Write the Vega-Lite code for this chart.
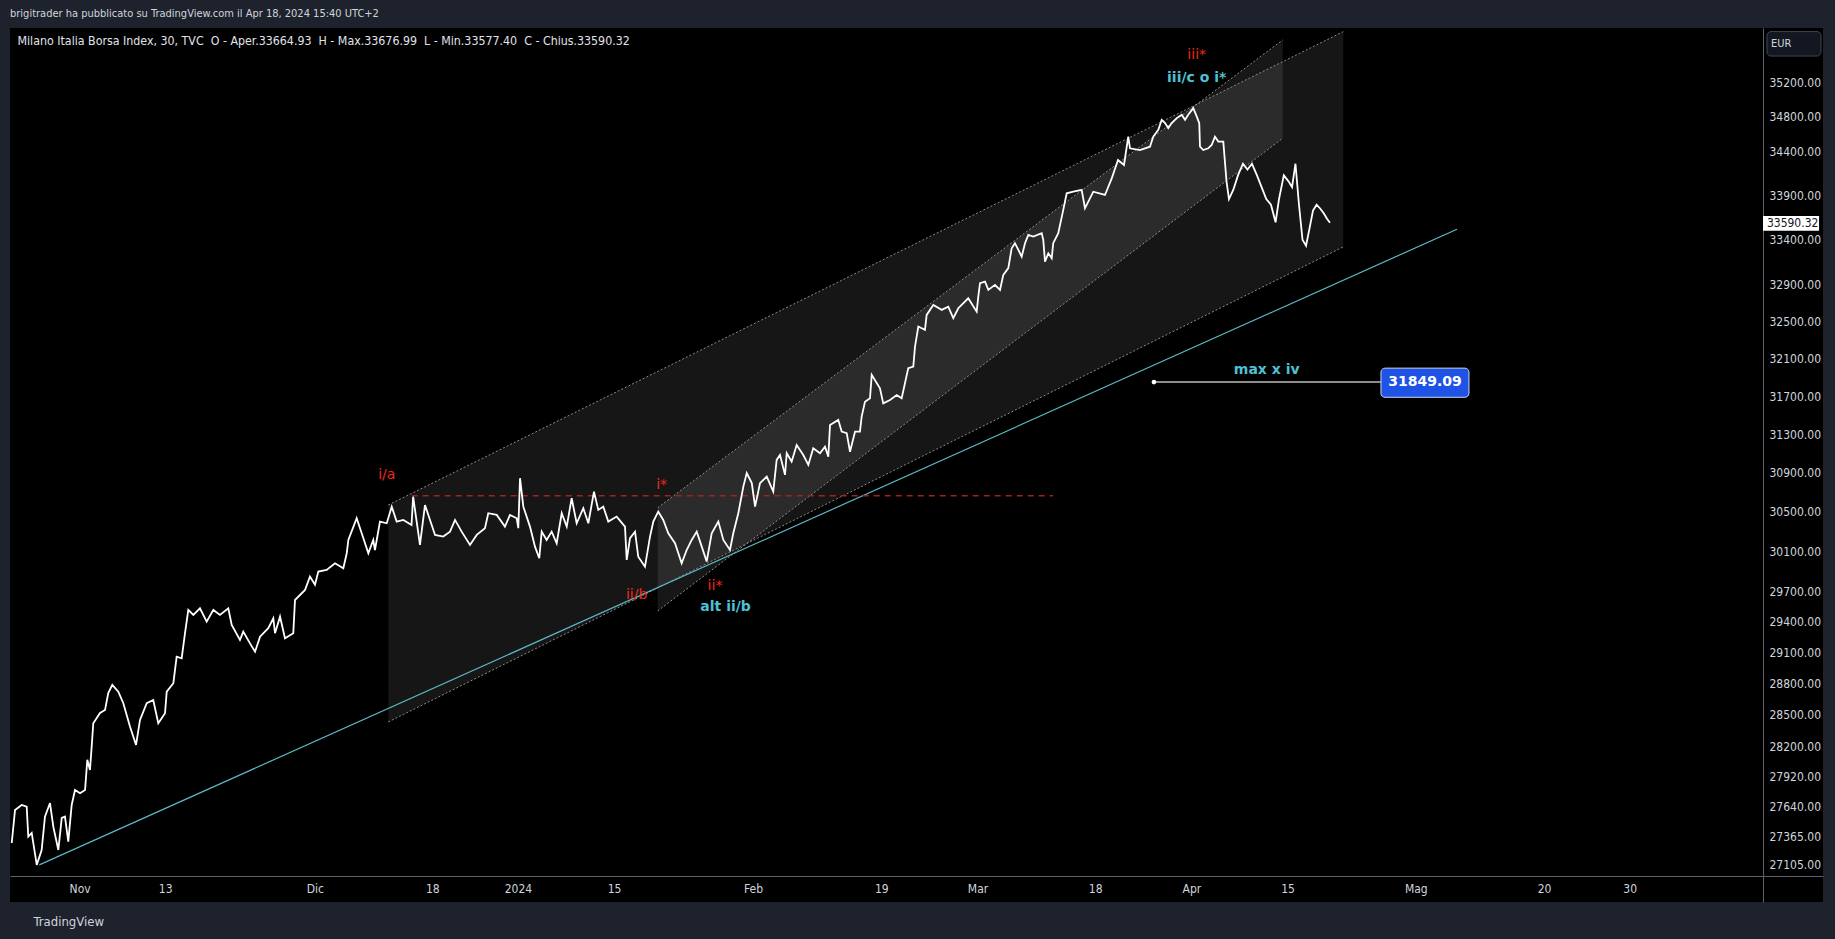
{
  "$schema": "https://vega.github.io/schema/vega-lite/v6.json",
  "width": 1813,
  "height": 874,
  "autosize": {"type": "none"},
  "padding": {"left": 10, "top": 28, "right": 12, "bottom": 37},
  "background": "#1e222d",
  "title": {
    "text": "brigitrader ha pubblicato su TradingView.com il Apr 18, 2024 15:40 UTC+2",
    "anchor": "start", "frame": "group", "offset": 9, "fontSize": 11, "fontWeight": "normal",
    "color": "#d1d4dc", "font": "Liberation Sans Narrow, DejaVu Sans Condensed, Roboto Condensed, Liberation Sans"
  },
  "config": {"view": {"fill": "#000000", "stroke": null}},
  "datasets": {
    "outer": [{"d": 28.88, "p": 30568, "p2": 28431}, {"d": 118.21, "p": 35805, "p2": 33321}],
    "inner": [{"d": 54.08, "p": 30540, "p2": 29505}, {"d": 112.55, "p": 35706, "p2": 34553}],
    "edges": [
      {"d": 28.88, "p": 30568, "d2": 118.21, "p2": 35805},
      {"d": 28.88, "p": 28431, "d2": 118.21, "p2": 33321},
      {"d": 54.08, "p": 30540, "d2": 112.55, "p2": 35706},
      {"d": 54.08, "p": 29505, "d2": 112.55, "p2": 34553}
    ],
    "cyan": [{"d": -3.77, "p": 27105, "d2": 128.85, "p2": 33518}],
    "redline": [{"d": 31.07, "p": 30663, "d2": 91.06, "p2": 30663}],
    "maxline": [{"d": 100.5, "p": 31849.09, "d2": 121.74, "p2": 31849.09}],
    "dot": [{"d": 100.5, "p": 31849.09}],
    "box": [{"d": 121.74, "d2": 129.97, "p": 31998, "p2": 31688, "label": "31849.09", "dc": 125.86, "pc": 31849.09}],
    "redlabels": [
      {"d": 28.73, "p": 30877, "label": "i/a"},
      {"d": 54.45, "p": 30774, "label": "i*"},
      {"d": 52.11, "p": 29663, "label": "ii/b"},
      {"d": 59.44, "p": 29750, "label": "ii*"},
      {"d": 104.5, "p": 35527, "label": "iii*"}
    ],
    "cyanlabels": [
      {"d": 60.43, "p": 29540, "label": "alt ii/b"},
      {"d": 104.5, "p": 35252, "label": "iii/c o i*"},
      {"d": 111.05, "p": 31979, "label": "max x iv"}
    ],
    "legend": [{"d": -5.81, "p": 35694, "label": "Milano Italia Borsa Index, 30, TVC \u00a0O - Aper.33664.93 \u00a0H - Max.33676.99 \u00a0L - Min.33577.40 \u00a0C - Chius.33590.32"}],
    "eur": [{"d": 157.85, "d2": 162.9, "p": 35806, "p2": 35515, "label": "EUR", "dt": 158.22, "pt": 35658}],
    "lastprice": [{"d": 157.48, "d2": 162.72, "p": 33668, "p2": 33500, "label": "33590.32", "dt": 160.25, "pt": 33590.32}],
    "price": [
      {"d": -6.35, "p": 27304}, {"d": -6.04, "p": 27607}, {"d": -5.42, "p": 27653}, {"d": -4.95, "p": 27637},
      {"d": -4.80, "p": 27362}, {"d": -4.48, "p": 27396}, {"d": -4.01, "p": 27105}, {"d": -3.55, "p": 27240},
      {"d": -3.24, "p": 27546}, {"d": -2.77, "p": 27671}, {"d": -2.46, "p": 27454}, {"d": -1.99, "p": 27240},
      {"d": -1.67, "p": 27534}, {"d": -1.37, "p": 27546}, {"d": -1.06, "p": 27317}, {"d": -0.74, "p": 27653},
      {"d": -0.43, "p": 27792}, {"d": 0.04, "p": 27762}, {"d": 0.51, "p": 27792}, {"d": 0.72, "p": 28073},
      {"d": 0.97, "p": 27979}, {"d": 1.13, "p": 28197}, {"d": 1.28, "p": 28419}, {"d": 1.91, "p": 28517},
      {"d": 2.38, "p": 28545}, {"d": 2.68, "p": 28707}, {"d": 3.06, "p": 28785}, {"d": 3.62, "p": 28720},
      {"d": 4.09, "p": 28609}, {"d": 4.71, "p": 28387}, {"d": 5.28, "p": 28213}, {"d": 5.65, "p": 28450},
      {"d": 6.28, "p": 28609}, {"d": 6.89, "p": 28640}, {"d": 7.36, "p": 28419}, {"d": 7.99, "p": 28514},
      {"d": 8.15, "p": 28720}, {"d": 8.77, "p": 28801}, {"d": 9.08, "p": 29057}, {"d": 9.55, "p": 29041},
      {"d": 9.86, "p": 29286}, {"d": 10.17, "p": 29515}, {"d": 10.64, "p": 29466}, {"d": 11.26, "p": 29531},
      {"d": 11.89, "p": 29400}, {"d": 12.51, "p": 29515}, {"d": 13.13, "p": 29466}, {"d": 13.91, "p": 29531},
      {"d": 14.23, "p": 29368}, {"d": 15.00, "p": 29220}, {"d": 15.31, "p": 29302}, {"d": 15.94, "p": 29187},
      {"d": 16.41, "p": 29106}, {"d": 16.88, "p": 29253}, {"d": 17.65, "p": 29335}, {"d": 18.12, "p": 29433},
      {"d": 18.28, "p": 29286}, {"d": 18.75, "p": 29449}, {"d": 19.21, "p": 29237}, {"d": 19.99, "p": 29286},
      {"d": 20.15, "p": 29613}, {"d": 21.09, "p": 29713}, {"d": 21.55, "p": 29846}, {"d": 22.02, "p": 29764},
      {"d": 22.33, "p": 29896}, {"d": 23.11, "p": 29912}, {"d": 23.89, "p": 29979}, {"d": 24.67, "p": 29929},
      {"d": 24.99, "p": 30079}, {"d": 25.14, "p": 30213}, {"d": 25.92, "p": 30433}, {"d": 26.39, "p": 30281},
      {"d": 27.01, "p": 30079}, {"d": 27.47, "p": 30213}, {"d": 27.63, "p": 30112}, {"d": 28.10, "p": 30399},
      {"d": 28.73, "p": 30382}, {"d": 29.20, "p": 30551}, {"d": 29.66, "p": 30399}, {"d": 30.28, "p": 30416},
      {"d": 31.05, "p": 30365}, {"d": 31.20, "p": 30653}, {"d": 31.84, "p": 30163}, {"d": 32.31, "p": 30568},
      {"d": 32.78, "p": 30416}, {"d": 33.25, "p": 30264}, {"d": 34.02, "p": 30247}, {"d": 34.65, "p": 30297},
      {"d": 35.12, "p": 30416}, {"d": 35.74, "p": 30297}, {"d": 36.52, "p": 30163}, {"d": 37.15, "p": 30264},
      {"d": 37.92, "p": 30332}, {"d": 38.23, "p": 30484}, {"d": 39.02, "p": 30467}, {"d": 39.79, "p": 30348},
      {"d": 40.26, "p": 30467}, {"d": 40.89, "p": 30433}, {"d": 41.04, "p": 30332}, {"d": 41.20, "p": 30843},
      {"d": 41.51, "p": 30551}, {"d": 42.13, "p": 30348}, {"d": 42.60, "p": 30146}, {"d": 43.00, "p": 30029},
      {"d": 43.23, "p": 30297}, {"d": 43.69, "p": 30213}, {"d": 44.16, "p": 30297}, {"d": 44.63, "p": 30180},
      {"d": 45.10, "p": 30484}, {"d": 45.57, "p": 30348}, {"d": 46.03, "p": 30637}, {"d": 46.50, "p": 30382},
      {"d": 47.12, "p": 30535}, {"d": 47.59, "p": 30382}, {"d": 48.12, "p": 30705}, {"d": 48.52, "p": 30518},
      {"d": 48.99, "p": 30551}, {"d": 49.46, "p": 30399}, {"d": 50.24, "p": 30450}, {"d": 51.02, "p": 30348},
      {"d": 51.18, "p": 30012}, {"d": 51.49, "p": 30231}, {"d": 51.96, "p": 30297}, {"d": 52.26, "p": 30045},
      {"d": 52.89, "p": 29945}, {"d": 53.36, "p": 30247}, {"d": 53.67, "p": 30399}, {"d": 54.13, "p": 30501},
      {"d": 54.60, "p": 30416}, {"d": 55.07, "p": 30281}, {"d": 55.70, "p": 30180}, {"d": 56.32, "p": 29979},
      {"d": 56.79, "p": 30112}, {"d": 57.26, "p": 30213}, {"d": 57.73, "p": 30297}, {"d": 58.20, "p": 30146},
      {"d": 58.66, "p": 29996}, {"d": 59.13, "p": 30281}, {"d": 59.75, "p": 30399}, {"d": 60.22, "p": 30213},
      {"d": 60.84, "p": 30112}, {"d": 61.15, "p": 30281}, {"d": 61.62, "p": 30484}, {"d": 62.09, "p": 30756},
      {"d": 62.41, "p": 30895}, {"d": 62.88, "p": 30792}, {"d": 63.19, "p": 30551}, {"d": 63.65, "p": 30792},
      {"d": 64.28, "p": 30860}, {"d": 64.89, "p": 30705}, {"d": 65.21, "p": 31032}, {"d": 65.52, "p": 31083},
      {"d": 65.99, "p": 30877}, {"d": 66.15, "p": 31101}, {"d": 66.61, "p": 31015}, {"d": 67.08, "p": 31187},
      {"d": 67.70, "p": 31083}, {"d": 68.17, "p": 30980}, {"d": 68.63, "p": 31153}, {"d": 69.26, "p": 31101},
      {"d": 69.73, "p": 31170}, {"d": 70.04, "p": 31066}, {"d": 70.20, "p": 31397}, {"d": 70.97, "p": 31450},
      {"d": 71.29, "p": 31327}, {"d": 71.76, "p": 31310}, {"d": 72.07, "p": 31117}, {"d": 72.54, "p": 31327},
      {"d": 73.00, "p": 31327}, {"d": 73.16, "p": 31484}, {"d": 73.47, "p": 31641}, {"d": 73.94, "p": 31677},
      {"d": 74.10, "p": 31926}, {"d": 74.87, "p": 31784}, {"d": 75.18, "p": 31624}, {"d": 75.81, "p": 31659},
      {"d": 76.44, "p": 31712}, {"d": 76.90, "p": 31677}, {"d": 77.21, "p": 31837}, {"d": 77.52, "p": 31998},
      {"d": 77.99, "p": 32015}, {"d": 78.15, "p": 32229}, {"d": 78.46, "p": 32446}, {"d": 79.08, "p": 32410},
      {"d": 79.24, "p": 32572}, {"d": 79.86, "p": 32681}, {"d": 80.65, "p": 32627}, {"d": 81.26, "p": 32662},
      {"d": 81.73, "p": 32537}, {"d": 82.20, "p": 32645}, {"d": 83.13, "p": 32754}, {"d": 83.92, "p": 32608},
      {"d": 84.07, "p": 32771}, {"d": 84.23, "p": 32919}, {"d": 84.70, "p": 32937}, {"d": 85.01, "p": 32846},
      {"d": 85.63, "p": 32901}, {"d": 86.10, "p": 32846}, {"d": 86.41, "p": 33011}, {"d": 86.88, "p": 33085},
      {"d": 87.19, "p": 33306}, {"d": 87.50, "p": 33362}, {"d": 88.13, "p": 33213}, {"d": 88.44, "p": 33362},
      {"d": 88.75, "p": 33455}, {"d": 89.22, "p": 33436}, {"d": 90.00, "p": 33474}, {"d": 90.15, "p": 33399},
      {"d": 90.31, "p": 33158}, {"d": 90.62, "p": 33250}, {"d": 90.94, "p": 33195}, {"d": 91.08, "p": 33362},
      {"d": 91.55, "p": 33474}, {"d": 92.02, "p": 33735}, {"d": 92.34, "p": 33923}, {"d": 92.96, "p": 33941},
      {"d": 93.74, "p": 33961}, {"d": 94.05, "p": 33754}, {"d": 94.83, "p": 33941}, {"d": 95.92, "p": 33904},
      {"d": 96.57, "p": 34098}, {"d": 97.14, "p": 34303}, {"d": 97.70, "p": 34246}, {"d": 98.10, "p": 34572},
      {"d": 98.26, "p": 34437}, {"d": 99.19, "p": 34417}, {"d": 100.13, "p": 34455}, {"d": 100.44, "p": 34572},
      {"d": 100.91, "p": 34650}, {"d": 101.23, "p": 34766}, {"d": 101.54, "p": 34728}, {"d": 101.84, "p": 34670},
      {"d": 102.16, "p": 34728}, {"d": 102.63, "p": 34786}, {"d": 103.10, "p": 34824}, {"d": 103.41, "p": 34766},
      {"d": 103.71, "p": 34824}, {"d": 104.18, "p": 34902}, {"d": 104.50, "p": 34805}, {"d": 104.74, "p": 34728},
      {"d": 104.81, "p": 34455}, {"d": 105.12, "p": 34417}, {"d": 105.58, "p": 34437}, {"d": 105.90, "p": 34475},
      {"d": 106.21, "p": 34572}, {"d": 106.52, "p": 34514}, {"d": 106.99, "p": 34514}, {"d": 107.29, "p": 34059},
      {"d": 107.52, "p": 33858}, {"d": 107.94, "p": 33966}, {"d": 108.36, "p": 34126}, {"d": 108.83, "p": 34260},
      {"d": 109.25, "p": 34193}, {"d": 109.67, "p": 34260}, {"d": 110.14, "p": 34126}, {"d": 110.57, "p": 33993},
      {"d": 111.01, "p": 33858}, {"d": 111.45, "p": 33793}, {"d": 111.88, "p": 33596}, {"d": 112.20, "p": 33858},
      {"d": 112.65, "p": 34126}, {"d": 113.09, "p": 34059}, {"d": 113.42, "p": 33993}, {"d": 113.74, "p": 34260},
      {"d": 114.07, "p": 33793}, {"d": 114.40, "p": 33400}, {"d": 114.73, "p": 33334}, {"d": 115.06, "p": 33531},
      {"d": 115.38, "p": 33727}, {"d": 115.72, "p": 33793}, {"d": 116.03, "p": 33754}, {"d": 116.37, "p": 33701},
      {"d": 116.69, "p": 33636}, {"d": 116.97, "p": 33590.32}
    ]
  },
  "encoding": {
    "x": {
      "field": "d", "type": "quantitative",
      "scale": {"domain": [-6.511, 163.09], "nice": false, "zero": false},
      "axis": {
        "orient": "bottom", "offset": -26,
        "values": [0, 8, 22, 33, 41, 50, 63, 75, 84, 95, 104, 113, 125, 137, 145],
        "labelExpr": "datum.value == 0 ? 'Nov' : datum.value == 8 ? '13' : datum.value == 22 ? 'Dic' : datum.value == 33 ? '18' : datum.value == 41 ? '2024' : datum.value == 50 ? '15' : datum.value == 63 ? 'Feb' : datum.value == 75 ? '19' : datum.value == 84 ? 'Mar' : datum.value == 95 ? '18' : datum.value == 104 ? 'Apr' : datum.value == 113 ? '15' : datum.value == 125 ? 'Mag' : datum.value == 137 ? '20' : '30'",
        "ticks": false, "grid": false, "domainColor": "#5d606b", "domainWidth": 1,
        "labelColor": "#d1d4dc", "labelFontSize": 12, "labelPadding": 7, "labelOverlap": false, "labelFlush": false,
        "labelFont": "Liberation Sans Narrow, DejaVu Sans Condensed, Roboto Condensed, Liberation Sans",
        "title": "TradingView", "titleX": 23, "titleY": 45, "titleAlign": "left", "titleAnchor": "start",
        "titleBaseline": "middle", "titleColor": "#d1d4dc", "titleFontSize": 13, "titleFontWeight": "normal",
        "titleFont": "Liberation Sans Narrow, DejaVu Sans Condensed, Roboto Condensed, Liberation Sans"
      }
    },
    "y": {
      "field": "p", "type": "quantitative",
      "scale": {"type": "log", "domain": [26771, 35849], "nice": false, "zero": false},
      "axis": {
        "orient": "right", "offset": -60,
        "values": [35200, 34800, 34400, 33900, 33400, 32900, 32500, 32100, 31700, 31300, 30900, 30500, 30100, 29700, 29400, 29100, 28800, 28500, 28200, 27920, 27640, 27365, 27105],
        "format": ".2f", "title": null, "ticks": false, "grid": false,
        "domainColor": "#5d606b", "domainWidth": 1,
        "labelColor": "#d1d4dc", "labelFontSize": 12, "labelPadding": 6, "labelOverlap": false, "labelFlush": false,
        "labelBaseline": "middle",
        "labelFont": "Liberation Sans Narrow, DejaVu Sans Condensed, Roboto Condensed, Liberation Sans"
      }
    }
  },
  "layer": [
    {"data": {"name": "outer"}, "mark": {"type": "area", "fill": "#ffffff", "fillOpacity": 0.085}, "encoding": {"y2": {"field": "p2"}}},
    {"data": {"name": "inner"}, "mark": {"type": "area", "fill": "#ffffff", "fillOpacity": 0.09}, "encoding": {"y2": {"field": "p2"}}},
    {"data": {"name": "edges"}, "mark": {"type": "rule", "color": "#8c8c8c", "strokeDash": [2, 2], "strokeWidth": 1}, "encoding": {"x2": {"field": "d2"}, "y2": {"field": "p2"}}},
    {"data": {"name": "cyan"}, "mark": {"type": "rule", "color": "#5bb8c6", "strokeWidth": 1.2}, "encoding": {"x2": {"field": "d2"}, "y2": {"field": "p2"}}},
    {"data": {"name": "redline"}, "mark": {"type": "rule", "color": "#a3221c", "strokeDash": [6, 5], "strokeWidth": 1.5}, "encoding": {"x2": {"field": "d2"}, "y2": {"field": "p2"}}},
    {"data": {"name": "price"}, "mark": {"type": "line", "color": "#ffffff", "strokeWidth": 1.8}, "encoding": {}},
    {"data": {"name": "maxline"}, "mark": {"type": "rule", "color": "#8d8d8d", "strokeWidth": 2}, "encoding": {"x2": {"field": "d2"}, "y2": {"field": "p2"}}},
    {"data": {"name": "dot"}, "mark": {"type": "point", "filled": true, "color": "#ffffff", "size": 22, "opacity": 1}, "encoding": {}},
    {"data": {"name": "box"}, "mark": {"type": "rect", "fill": "#1e53e5", "stroke": "#cdd6f2", "strokeWidth": 1, "cornerRadius": 4}, "encoding": {"x2": {"field": "d2"}, "y2": {"field": "p2"}}},
    {"data": {"name": "box"}, "mark": {"type": "text", "color": "#ffffff", "fontSize": 14, "fontWeight": "bold", "font": "DejaVu Sans", "align": "center", "baseline": "middle"},
     "encoding": {"x": {"field": "dc", "type": "quantitative"}, "y": {"field": "pc", "type": "quantitative"}, "text": {"field": "label"}}},
    {"data": {"name": "redlabels"}, "mark": {"type": "text", "color": "#ee2a1b", "fontSize": 14, "font": "DejaVu Sans", "align": "center", "baseline": "middle"}, "encoding": {"text": {"field": "label"}}},
    {"data": {"name": "cyanlabels"}, "mark": {"type": "text", "color": "#4ec1d4", "fontSize": 14, "fontWeight": "bold", "font": "DejaVu Sans", "align": "center", "baseline": "middle"}, "encoding": {"text": {"field": "label"}}},
    {"data": {"name": "legend"}, "mark": {"type": "text", "color": "#e0e3eb", "fontSize": 12.3, "font": "Liberation Sans Narrow, DejaVu Sans Condensed, Roboto Condensed, Liberation Sans", "align": "left", "baseline": "middle"}, "encoding": {"text": {"field": "label"}}},
    {"data": {"name": "eur"}, "mark": {"type": "rect", "fill": "#131722", "stroke": "#434651", "strokeWidth": 1, "cornerRadius": 4}, "encoding": {"x2": {"field": "d2"}, "y2": {"field": "p2"}}},
    {"data": {"name": "eur"}, "mark": {"type": "text", "color": "#d1d4dc", "fontSize": 11, "font": "Liberation Sans Narrow, DejaVu Sans Condensed, Roboto Condensed, Liberation Sans", "align": "left", "baseline": "middle"},
     "encoding": {"x": {"field": "dt", "type": "quantitative"}, "y": {"field": "pt", "type": "quantitative"}, "text": {"field": "label"}}},
    {"data": {"name": "lastprice"}, "mark": {"type": "rect", "fill": "#ffffff"}, "encoding": {"x2": {"field": "d2"}, "y2": {"field": "p2"}}},
    {"data": {"name": "lastprice"}, "mark": {"type": "text", "color": "#131722", "fontSize": 12, "font": "Liberation Sans Narrow, DejaVu Sans Condensed, Roboto Condensed, Liberation Sans", "align": "center", "baseline": "middle"},
     "encoding": {"x": {"field": "dt", "type": "quantitative"}, "y": {"field": "pt", "type": "quantitative"}, "text": {"field": "label"}}}
  ]
}
